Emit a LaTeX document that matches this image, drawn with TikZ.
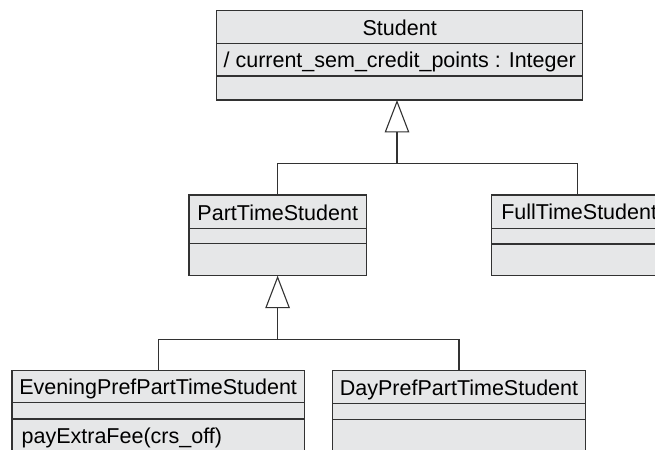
\documentclass[tikz,border=0pt]{standalone}
\usepackage{fontspec}
\setmainfont{Liberation Sans}
\usetikzlibrary{arrows.meta}
\definecolor{boxfill}{RGB}{230,231,232}
\definecolor{linec}{RGB}{50,50,50}
\newcommand{\umlfont}{\fontsize{21.5bp}{25bp}\selectfont}
\begin{document}
\begin{tikzpicture}[x=1bp,y=-1bp,
  cls/.style={draw=linec, fill=boxfill, line width=1.1bp, rectangle,
    inner sep=0pt, outer sep=0pt, anchor=north west,
    text height=16.6bp, text depth=0pt, font=\umlfont},
  emptycomp/.style={cls, text height=0pt, text depth=0pt},
  conn/.style={draw=linec, line width=1.1bp},
  gen/.style={conn, -{Triangle[open, fill=white, length=32.5bp, width=24.6bp]}}]
\fill[white] (0,0) rectangle (655,450);
\useasboundingbox (0,0) rectangle (655,450);
\clip (0,0) rectangle (655,450);

% Student
\node[cls, minimum width=366bp, minimum height=32.6bp] (stu) at (216.7,10.7) {Student};
\node[cls, minimum width=366bp, minimum height=32.7bp] (stuA) at (stu.south west) {/ current\_sem\_credit\_points : Integer};
\node[emptycomp, minimum width=366bp, minimum height=24bp] (stuO) at (stuA.south west) {};

% PartTimeStudent
\node[cls, minimum width=177.5bp, minimum height=33.5bp] (pt) at (189,195) {PartTimeStudent};
\node[emptycomp, minimum width=177.5bp, minimum height=15bp] (ptA) at (pt.south west) {};
\node[emptycomp, minimum width=177.5bp, minimum height=32.2bp] (ptO) at (ptA.south west) {};

% FullTimeStudent
\node[cls, minimum width=171.2bp, minimum height=33.3bp, text width=152bp, align=left] (ft) at (491.7,195) {FullTimeStudent};
\node[emptycomp, minimum width=171.2bp, minimum height=15.7bp] (ftA) at (ft.south west) {};
\node[emptycomp, minimum width=171.2bp, minimum height=31.7bp] (ftO) at (ftA.south west) {};

% EveningPrefPartTimeStudent
\node[cls, minimum width=292.3bp, minimum height=32.2bp] (ev) at (12,370.5) {EveningPrefPartTimeStudent};
\node[emptycomp, minimum width=292.3bp, minimum height=16.3bp] (evA) at (ev.south west) {};
\node[cls, minimum width=292.3bp, minimum height=33bp, text width=273bp, align=left] (evO) at (evA.south west) {payExtraFee(crs\_off)};

% DayPrefPartTimeStudent
\node[cls, minimum width=253.4bp, minimum height=32.6bp] (dp) at (332.3,370.7) {DayPrefPartTimeStudent};
\node[emptycomp, minimum width=253.4bp, minimum height=16bp] (dpA) at (dp.south west) {};
\node[emptycomp, minimum width=253.4bp, minimum height=40bp] (dpO) at (dpA.south west) {};

% generalisation: Student
\coordinate (j1) at (397,163.3);
\draw[conn] (pt.north) |- (j1) -| (ft.north);
\draw[gen] (j1) -- (stuO.south -| j1);

% generalisation: PartTimeStudent
\coordinate (j2) at (277.6,339.3);
\draw[conn] (ev.north) |- (j2) -| (dp.north);
\draw[gen] (j2) -- (ptO.south -| j2);
\end{tikzpicture}
\end{document}
